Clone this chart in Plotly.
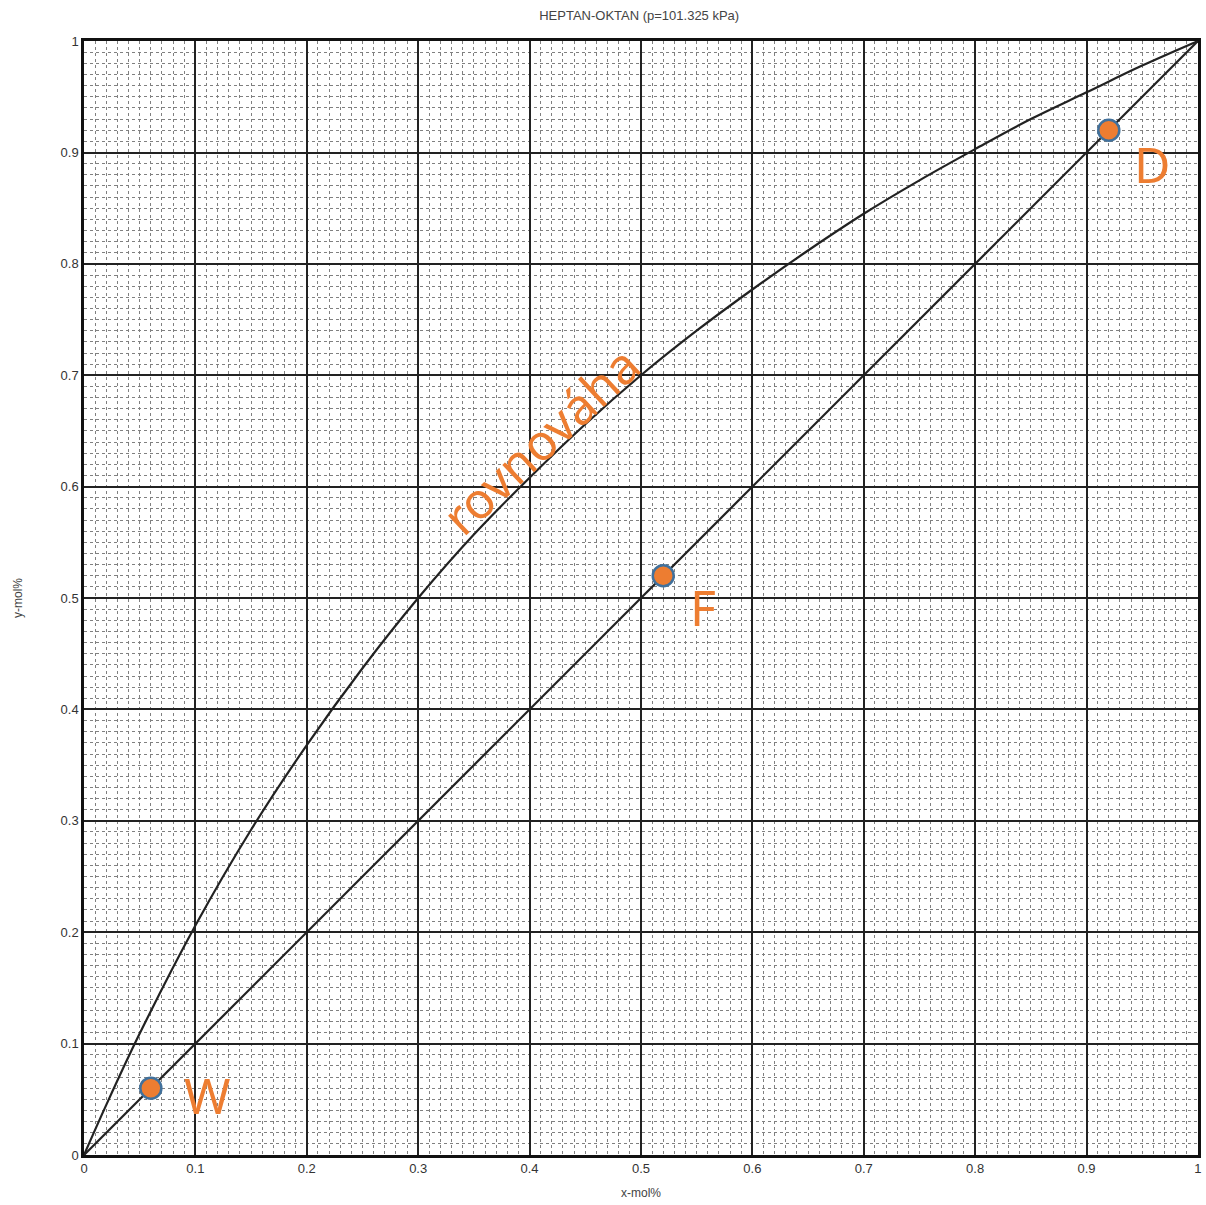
import plotly.graph_objects as go

# Equilibrium curve
eq_x = [0, 0.02, 0.05, 0.1, 0.15, 0.2, 0.25, 0.3, 0.35, 0.4, 0.45, 0.5, 0.55, 0.6, 0.65, 0.7, 0.75, 0.8, 0.85, 0.9, 0.95, 1.0]
eq_y = [0, 0.045, 0.109, 0.206, 0.292, 0.368, 0.437, 0.50, 0.557, 0.608, 0.656, 0.70, 0.740, 0.777, 0.812, 0.845, 0.875, 0.903, 0.930, 0.954, 0.978, 1.0]
# Diagonal
diag_x = [0, 1]
diag_y = [0, 1]
# Points
pt_names = ["W", "F", "D"]
pt_x = [0.06, 0.52, 0.92]
pt_y = [0.06, 0.52, 0.92]
lbl_x = [0.088, 0.542, 0.941]
lbl_y = [0.054, 0.492, 0.890]

orange = "#ED7D31"
blue = "#41719C"
font = "Liberation Sans, Arial, sans-serif"

fig = go.Figure()
fig.add_trace(go.Scatter(x=eq_x, y=eq_y, mode="lines", line=dict(color="#222", width=2.2, shape="spline"), hoverinfo="skip"))
fig.add_trace(go.Scatter(x=diag_x, y=diag_y, mode="lines", line=dict(color="#222", width=2.2), hoverinfo="skip"))
fig.add_trace(go.Scatter(x=pt_x, y=pt_y, mode="markers",
                         marker=dict(size=21, color=orange, line=dict(color=blue, width=2.5))))
for n, lx, ly in zip(pt_names, lbl_x, lbl_y):
    fig.add_annotation(x=lx, y=ly, text=n, showarrow=False, xanchor="left", yanchor="middle",
                       font=dict(family="Noto Sans, sans-serif", size=50, color=orange))
fig.add_annotation(x=0.41, y=0.642, text="rovnováha", showarrow=False, textangle=-43,
                   font=dict(family="Noto Sans, sans-serif", size=50, color=orange))

ax = dict(range=[0, 1.0001], dtick=0.1, tick0=0, showgrid=True, gridcolor="#222", gridwidth=1.5,
          showline=True, linecolor="#111", linewidth=2.5, mirror=True, zeroline=False,
          ticks="", tickfont=dict(family=font, size=13, color="#333"), automargin=False,
          ticklabeloverflow="allow",
          minor=dict(dtick=0.01, showgrid=True, gridcolor="#808080", gridwidth=1, griddash="dot"))
fig.update_layout(
    width=1206, height=1205,
    margin=dict(l=84, r=8, t=41, b=50),
    plot_bgcolor="white", paper_bgcolor="white", showlegend=False,
    title=dict(text="HEPTAN-OKTAN (p=101.325 kPa)", x=0.53, xanchor="center", y=0.987, yanchor="middle",
               font=dict(family=font, size=13, color="#444")),
    xaxis=dict(ax, title=dict(text="x-mol%", font=dict(family=font, size=12, color="#444"), standoff=14)),
    yaxis=dict(ax, title=dict(text="y-mol%", font=dict(family=font, size=12, color="#444"), standoff=36)),
)
fig.write_html("out.html", config={"displayModeBar": False},
               post_script="document.body.style.margin='0';document.body.style.overflow='hidden';")
